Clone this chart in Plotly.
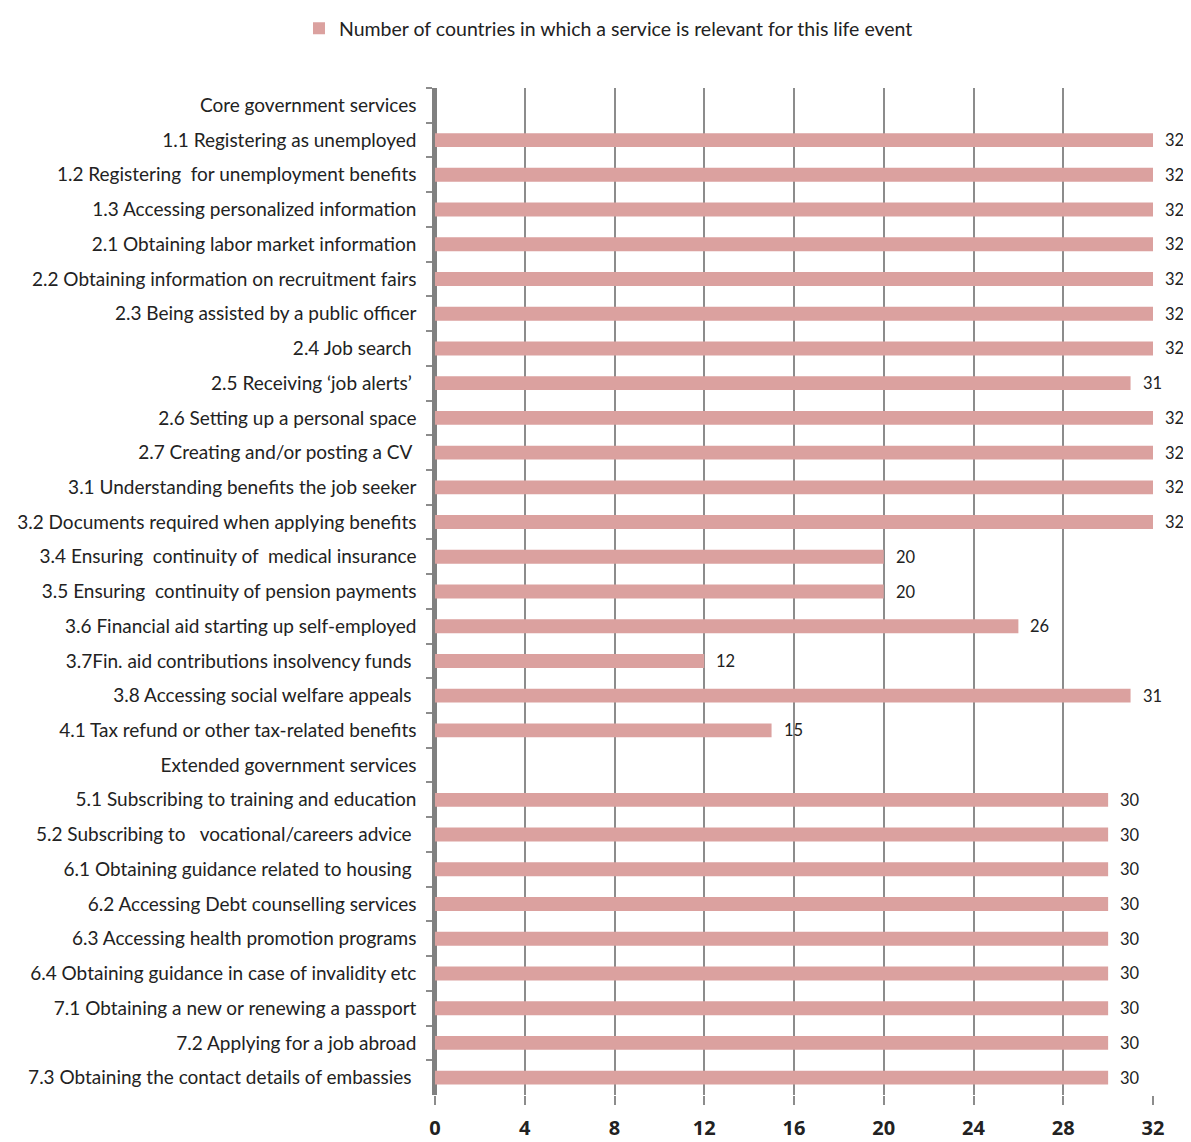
import plotly.graph_objects as go

categories = [
    "Core government services",
    "1.1 Registering as unemployed",
    "1.2 Registering  for unemployment benefits",
    "1.3 Accessing personalized information",
    "2.1 Obtaining labor market information",
    "2.2 Obtaining information on recruitment fairs",
    "2.3 Being assisted by a public officer",
    "2.4 Job search ",
    "2.5 Receiving \u2018job alerts\u2019 ",
    "2.6 Setting up a personal space",
    "2.7 Creating and/or posting a CV ",
    "3.1 Understanding benefits the job seeker",
    "3.2 Documents required when applying benefits",
    "3.4 Ensuring  continuity of  medical insurance",
    "3.5 Ensuring  continuity of pension payments",
    "3.6 Financial aid starting up self-employed",
    "3.7Fin. aid contributions insolvency funds ",
    "3.8 Accessing social welfare appeals ",
    "4.1 Tax refund or other tax-related benefits",
    "Extended government services",
    "5.1 Subscribing to training and education",
    "5.2 Subscribing to   vocational/careers advice ",
    "6.1 Obtaining guidance related to housing ",
    "6.2 Accessing Debt counselling services",
    "6.3 Accessing health promotion programs",
    "6.4 Obtaining guidance in case of invalidity etc",
    "7.1 Obtaining a new or renewing a passport",
    "7.2 Applying for a job abroad",
    "7.3 Obtaining the contact details of embassies ",
]
values = [None, 32, 32, 32, 32, 32, 32, 32, 31, 32, 32, 32, 32, 20, 20, 26, 12, 31, 15,
          None, 30, 30, 30, 30, 30, 30, 30, 30, 30]
x_ticks = [0, 4, 8, 12, 16, 20, 24, 28, 32]
series_name = "Number of countries in which a service is relevant for this life event"

bar_color = "#DBA19F"
font_family = "Lato, 'Open Sans', sans-serif"

fig = go.Figure()
fig.add_trace(go.Bar(
    y=categories, x=values, orientation="h", name=series_name,
    marker=dict(color=bar_color, line=dict(width=0)),
    showlegend=True, cliponaxis=False,
))

annotations = []
for c, v in zip(categories, values):
    if v is None:
        continue
    annotations.append(dict(
        x=v, y=c, xref="x", yref="y", text=str(v), showarrow=False,
        xanchor="left", xshift=10, font=dict(size=16.5, color="#222", family=font_family),
    ))

# page body adds an 8px offset; size the figure so the plot lands where the reference has it
fig.update_layout(
    width=1183, height=1134,
    margin=dict(l=427, r=38, t=80, b=47),
    plot_bgcolor="white", paper_bgcolor="white",
    bargap=0.6,
    font=dict(family=font_family, color="#222"),
    showlegend=True,
    legend=dict(orientation="h", x=0.5076, xanchor="center", xref="container",
                y=0.999, yanchor="top", yref="container",
                font=dict(size=19.5, color="#222"), itemwidth=30),
    annotations=annotations,
    xaxis=dict(
        range=[0, 32], tickvals=x_ticks, ticktext=[str(t) for t in x_ticks],
        automargin=False,
        showgrid=True, gridcolor="#8C8C8C", gridwidth=1.5,
        showline=False, zeroline=True, zerolinecolor="#808080", zerolinewidth=2.5,
        ticks="outside", ticklen=9, tickcolor="#8C8C8C", tickwidth=1.5,
        tickfont=dict(size=20, color="#222", family="'Liberation Sans Narrow', 'Open Sans', sans-serif", weight="bold"),
        ticklabelstandoff=6,
    ),
    yaxis=dict(
        type="category", categoryorder="array", categoryarray=categories,
        autorange="reversed", automargin=False,
        showline=True, linecolor="#808080", linewidth=2.5,
        ticks="outside", ticklen=6, tickcolor="#8C8C8C", tickwidth=1.5, tickson="boundaries",
        tickfont=dict(size=19, color="#222"),
        ticklabelstandoff=12,
        showgrid=False,
    ),
)

fig.write_html("out.html")
